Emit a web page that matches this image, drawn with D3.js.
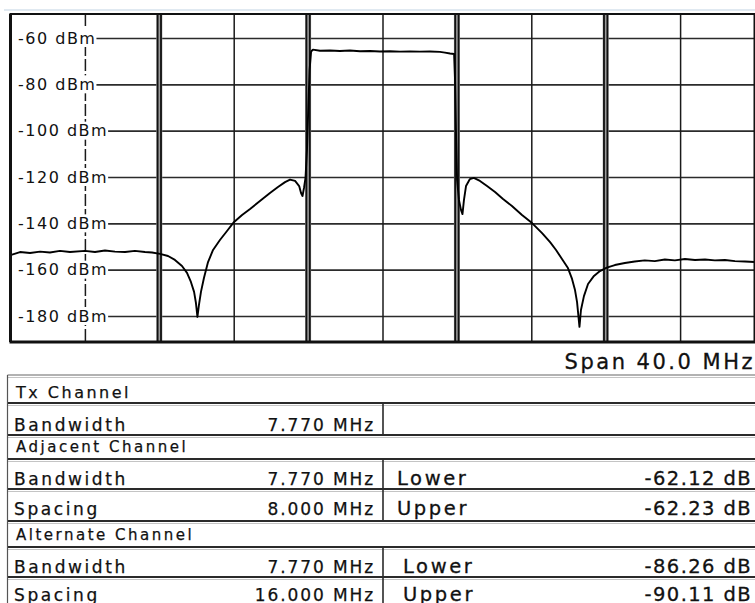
<!DOCTYPE html>
<html>
<head>
<meta charset="utf-8">
<script src="https://cdn.jsdelivr.net/npm/d3@7"></script>
<style>
  body { margin: 0; background: #fff; }
  svg { display: block; font-family: "DejaVu Sans", Verdana, sans-serif; }
</style>
</head>
<body>
<script>

// trace (MHz offset from centre, dBm)
var freqMHz = [
  -20.0, -19.49, -18.95, -18.41, -17.88, -17.34, -16.80, -15.99, -15.46, -14.92,
  -14.38, -13.84, -13.31, -12.77, -12.39, -11.96, -11.53, -11.16, -10.78, -10.51,
  -10.30, -10.13, -10.03, -9.95, -9.87, -9.76, -9.60, -9.38, -9.11, -8.74,
  -8.36, -7.98, -7.55, -7.12, -6.59, -6.05, -5.62, -5.24, -4.97, -4.70,
  -4.48, -4.38, -4.30, -4.22, -4.14, -4.06, -4.01, -3.92, -3.84, -3.79, -3.74,
  -3.36, -2.82, -2.29, -1.75, -1.21, -0.67, -0.14, 0.40, 0.94, 1.48,
  2.01, 2.55, 3.09, 3.36, 3.63, 3.85, 3.90, 3.96, 4.01, 4.11,
  4.22, 4.30, 4.38, 4.49, 4.70, 4.91, 5.24, 5.62, 6.05, 6.48,
  6.96, 7.50, 8.04, 8.58, 9.01, 9.33, 9.65, 9.97, 10.19, 10.35,
  10.46, 10.59, 10.67, 10.83, 11.05, 11.37, 11.69, 12.06, 12.49, 13.03,
  13.56, 14.10, 14.64, 15.18, 15.72, 16.26, 16.80, 17.34, 17.87, 18.41,
  18.95, 19.49, 20.0
];
var levelDbm = [
  -153.7, -152.4, -152.8, -152.2, -152.6, -151.9, -152.4, -151.9, -152.4, -151.7,
  -152.2, -152.4, -151.9, -152.4, -152.6, -153.2, -154.1, -155.8, -158.4, -161.4,
  -165.3, -169.6, -174.4, -180.4, -175.3, -169.6, -163.6, -156.7, -151.5, -147.2,
  -143.3, -139.4, -136.4, -133.8, -130.4, -126.9, -124.3, -122.2, -121.1, -121.7,
  -123.9, -126.9, -128.2, -124.7, -120.4, -108.3, -95.4, -73.8, -66.0, -65.4, -65.0,
  -65.5, -65.4, -65.6, -65.4, -65.7, -65.6, -65.8, -65.7, -65.9, -65.8,
  -65.9, -65.8, -66.0, -66.3, -66.7, -66.9, -78.1, -104.0, -121.3, -129.9,
  -134.2, -136.0, -129.9, -123.9, -120.9, -120.4, -121.7, -123.9, -126.5, -129.5,
  -132.5, -136.4, -139.9, -144.2, -148.1, -151.5, -155.4, -159.3, -164.0, -168.8,
  -174.0, -184.7, -177.4, -171.4, -166.2, -162.7, -160.6, -159.1, -158.0, -157.1,
  -156.5, -156.0, -156.3, -155.6, -156.0, -155.4, -155.8, -155.6, -156.0, -155.8,
  -156.3, -156.5, -156.7
];

var yTicks = [-60, -80, -100, -120, -140, -160, -180];
var gridMHz = [-16, -8, 0, 8, 16];
var channelEdgesMHz = [-12, -4, 4, 12];
var spanLabel = "Span 40.0 MHz";

// ACP table
var rowLabels = ["Tx Channel", "Bandwidth", "Adjacent Channel", "Bandwidth", "Spacing",
                 "Alternate Channel", "Bandwidth", "Spacing"];
var rowIsHeader = [true, false, true, false, false, true, false, false];
var paramValues = ["", "7.770 MHz", "", "7.770 MHz", "8.000 MHz", "", "7.770 MHz", "16.000 MHz"];
var sideLabels = ["", "", "", "Lower", "Upper", "", "Lower", "Upper"];
var resultValues = ["", "", "", "-62.12 dB", "-62.23 dB", "", "-86.26 dB", "-90.11 dB"];


var W = 755, H = 603;
var plot = {left: 10.5, right: 754.5, top: 14, bottom: 342};

var svg = d3.select("body").append("svg")
    .attr("width", W)
    .attr("height", H);

svg.append("rect").attr("width", W).attr("height", H).attr("fill", "#fff");

var x = d3.scaleLinear().domain([-20, 20]).range([plot.left, plot.right]);
var y = d3.scaleLinear().domain([-60, -180]).range([38, 316]);

// faint line above the screen
svg.append("line")
    .attr("x1", 4).attr("x2", W).attr("y1", 10).attr("y2", 10)
    .attr("stroke", "#d6e2ec").attr("stroke-width", 1.5);

// horizontal grid from an axis
var yGrid = svg.append("g")
    .attr("transform", "translate(" + plot.left + ",0)")
    .call(d3.axisRight(y).tickValues(yTicks).tickSize(plot.right - plot.left).tickFormat(""));
yGrid.select(".domain").remove();
yGrid.selectAll("line").attr("stroke", "#2b2b2b").attr("stroke-width", 1.6);

// vertical grid
var xGrid = svg.append("g")
    .attr("transform", "translate(0," + plot.top + ")")
    .call(d3.axisBottom(x).tickValues(gridMHz).tickSize(plot.bottom - plot.top).tickFormat(""));
xGrid.select(".domain").remove();
xGrid.selectAll("line")
    .attr("stroke", "#1a1a1a")
    .attr("stroke-width", 1.5)
    .attr("stroke-dasharray", function(d) { return d === -16 ? "12,3" : null; });

// channel edges: double lines
var edges = svg.append("g").selectAll("g").data(channelEdgesMHz).enter().append("g");
edges.append("rect")
    .attr("x", function(d) { return x(d) - 3; })
    .attr("y", plot.top).attr("width", 6).attr("height", plot.bottom - plot.top)
    .attr("fill", "#9a9a9a");
edges.append("line")
    .attr("x1", function(d) { return x(d) - 1.7; }).attr("x2", function(d) { return x(d) - 1.7; })
    .attr("y1", plot.top).attr("y2", plot.bottom)
    .attr("stroke", "#111").attr("stroke-width", 1.8);
edges.append("line")
    .attr("x1", function(d) { return x(d) + 1.7; }).attr("x2", function(d) { return x(d) + 1.7; })
    .attr("y1", plot.top).attr("y2", plot.bottom)
    .attr("stroke", "#111").attr("stroke-width", 1.8);

// level labels, white boxes over the grid
var labels = svg.append("g").selectAll("g").data(yTicks).enter().append("g")
    .attr("transform", function(d) { return "translate(18," + y(d) + ")"; });
labels.append("text")
    .attr("y", 5.5)
    .style("font-size", "16px")
    .style("letter-spacing", "1.5px")
    .attr("fill", "#111")
    .text(function(d) { return d + " dBm"; });
labels.each(function() {
  var g = d3.select(this);
  var bb = g.select("text").node().getBBox();
  g.insert("rect", "text")
      .attr("x", -6).attr("y", -9)
      .attr("width", bb.width + 6).attr("height", 18)
      .attr("fill", "#fff");
});

// trace
var trace = freqMHz.map(function(f, i) { return [f, levelDbm[i]]; });
var line = d3.line().x(function(d) { return x(d[0]); }).y(function(d) { return y(d[1]); });
svg.append("path")
    .datum(trace)
    .attr("d", line)
    .attr("fill", "none")
    .attr("stroke", "#000")
    .attr("stroke-width", 1.9)
    .attr("stroke-linejoin", "round");

// frame
svg.append("line").attr("x1", plot.left - 1).attr("x2", W).attr("y1", plot.top).attr("y2", plot.top)
    .attr("stroke", "#111").attr("stroke-width", 2.2);
svg.append("line").attr("x1", plot.left - 1).attr("x2", W).attr("y1", plot.bottom).attr("y2", plot.bottom)
    .attr("stroke", "#111").attr("stroke-width", 3);
svg.append("line").attr("x1", plot.left).attr("x2", plot.left).attr("y1", plot.top).attr("y2", plot.bottom)
    .attr("stroke", "#111").attr("stroke-width", 3);
svg.append("line").attr("x1", plot.right).attr("x2", plot.right).attr("y1", plot.top).attr("y2", plot.bottom)
    .attr("stroke", "#111").attr("stroke-width", 2);

svg.append("text")
    .attr("x", 755).attr("y", 369)
    .attr("text-anchor", "end")
    .style("font-size", "21px")
    .style("letter-spacing", "2.5px")
    .attr("fill", "#111")
    .attr("stroke", "#111").attr("stroke-width", 0.3)
    .text(spanLabel);

// table
var rowTops = [375, 403, 435, 459, 489, 521, 547, 577, 607];
var baselines = [398, 431, 452, 485, 515, 540, 573, 601];
var tableLeft = 7.5, divX = 383;

var rows = svg.append("g").selectAll("g").data(rowLabels).enter().append("g");

rows.append("line")
    .attr("x1", tableLeft).attr("x2", W)
    .attr("y1", function(d, i) { return rowTops[i]; }).attr("y2", function(d, i) { return rowTops[i]; })
    .attr("stroke", function(d, i) { return i === 0 ? "#999" : "#2a2a2a"; })
    .attr("stroke-width", function(d, i) { return i === 0 ? 1.5 : 1.8; });
rows.append("line")
    .attr("x1", tableLeft).attr("x2", W)
    .attr("y1", function(d, i) { return rowTops[i] + 2.5; }).attr("y2", function(d, i) { return rowTops[i] + 2.5; })
    .attr("stroke", "#c4c4c4").attr("stroke-width", 1);

rows.each(function(d, i) {
  var g = d3.select(this);
  if (!rowIsHeader[i]) {
    g.append("line")
        .attr("x1", divX).attr("x2", divX)
        .attr("y1", rowTops[i]).attr("y2", rowTops[i + 1])
        .attr("stroke", "#2a2a2a").attr("stroke-width", 1.6);
  }
  g.append("text")
      .attr("x", rowIsHeader[i] ? 16 : 14).attr("y", baselines[i])
      .style("font-size", rowIsHeader[i] ? (i === 0 ? "16px" : "15px") : "17px")
      .style("letter-spacing", rowIsHeader[i] ? "2.5px" : "2.6px")
      .attr("fill", "#111")
      .attr("stroke", "#111").attr("stroke-width", 0.25)
      .text(d);
  if (paramValues[i]) {
    g.append("text")
        .attr("x", 375).attr("y", baselines[i])
        .attr("text-anchor", "end")
        .style("font-size", "17px")
        .style("letter-spacing", "1.9px")
        .attr("fill", "#111")
        .attr("stroke", "#111").attr("stroke-width", 0.25)
        .text(paramValues[i]);
  }
  if (sideLabels[i]) {
    g.append("text")
        .attr("x", i > 5 ? 403 : 397).attr("y", baselines[i])
        .style("font-size", "19.5px")
        .style("letter-spacing", "2.6px")
        .attr("fill", "#111")
        .attr("stroke", "#111").attr("stroke-width", 0.3)
        .text(sideLabels[i]);
    g.append("text")
        .attr("x", 752).attr("y", baselines[i])
        .attr("text-anchor", "end")
        .style("font-size", "19.5px")
        .style("letter-spacing", "1.4px")
        .attr("fill", "#111")
        .attr("stroke", "#111").attr("stroke-width", 0.3)
        .text(resultValues[i]);
  }
});

svg.append("line")
    .attr("x1", tableLeft).attr("x2", tableLeft).attr("y1", rowTops[0]).attr("y2", H)
    .attr("stroke", "#555").attr("stroke-width", 1.2);

</script>
</body>
</html>
